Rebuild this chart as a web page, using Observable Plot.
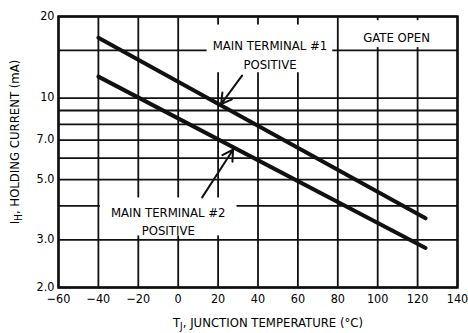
<!DOCTYPE html>
<html><head><meta charset="utf-8">
<script src="https://cdn.jsdelivr.net/npm/d3@7"></script>
<script src="https://cdn.jsdelivr.net/npm/@observablehq/plot@0.6"></script>
<style>body{margin:0;background:#fff}</style>
</head><body><div id="chart"></div>
<script>
// Holding current vs junction temperature, gate open
const xTicks = [-60, -40, -20, 0, 20, 40, 60, 80, 100, 120, 140];
const yGrid = [2, 3, 4, 5, 6, 7, 8, 9, 10, 15, 20];
const yTicks = [2, 3, 5, 7, 10, 20];
const yTickText = ["2.0", "3.0", "5.0", "7.0", "10", "20"];
const temps = [-40, 124];
const mt1Current = [16.7, 3.6];   // main terminal #1 positive, mA
const mt2Current = [12.0, 2.8];   // main terminal #2 positive, mA

const rows = [
  ...temps.map((t, i) => ({series: "MT1", t, ih: mt1Current[i]})),
  ...temps.map((t, i) => ({series: "MT2", t, ih: mt2Current[i]}))
];

// Annotation blocks (data units); white boxes keep the grid clear behind text
const boxes = [
  {x1: 14.5, x2: 77.5, y1: 12.4, y2: 18.6},
  {x1: 81, x2: 138.5, y1: 15.35, y2: 19.3},
  {x1: -39, x2: 29.5, y1: 3.1, y2: 4.28}
];
const notes = [
  {x: 46, y: 14.6, text: "MAIN TERMINAL #1\nPOSITIVE"},
  {x: 109.5, y: 17.0, text: "GATE OPEN"},
  {x: -5, y: 3.55, text: "MAIN TERMINAL #2\nPOSITIVE"}
];
const arrows = [
  {x1: 32, y1: 12.1, x2: 21.5, y2: 9.5},
  {x1: 12, y1: 4.3, x2: 27.5, y2: 6.45}
];

const font = "'DejaVu Sans Condensed', 'Liberation Sans Narrow', sans-serif";

const svg = Plot.plot({
  width: 468,
  height: 333,
  marginLeft: 58,
  marginRight: 11,
  marginTop: 16,
  marginBottom: 46,
  style: {fontFamily: font, fontSize: "13px", color: "#000", background: "#fff"},
  x: {domain: [-60, 140]},
  y: {type: "log", domain: [2, 20]},
  marks: [
    Plot.ruleX(xTicks, {stroke: "#111", strokeWidth: 1.8}),
    Plot.ruleY(yGrid, {stroke: "#111", strokeWidth: 1.8}),
    Plot.rect(boxes, {x1: "x1", x2: "x2", y1: "y1", y2: "y2", fill: "white"}),
    Plot.frame({stroke: "#111", strokeWidth: 2.5}),
    Plot.line(rows, {x: "t", y: "ih", z: "series", stroke: "#111", strokeWidth: 4}),
    Plot.text(notes, {x: "x", y: "y", text: "text", fill: "#000", fontSize: 13, lineHeight: 1.45}),
    Plot.arrow(arrows, {x1: "x1", y1: "y1", x2: "x2", y2: "y2", stroke: "#111", strokeWidth: 2, headLength: 9}),
    Plot.axisX(xTicks, {tickSize: 0, tickPadding: 7, label: null, fontSize: 12.5}),
    Plot.axisY(yTicks, {tickSize: 0, tickPadding: 4, label: null, fontSize: 12.5, dy: -1,
      tickFormat: d => yTickText[yTicks.indexOf(d)]})
  ]
});

// Axis titles with subscripts
const s = d3.select(svg);
const xt = s.append("text")
  .attr("x", 268).attr("y", 327)
  .attr("text-anchor", "middle")
  .attr("font-family", font).attr("font-size", 13).attr("fill", "#000");
xt.append("tspan").text("T");
xt.append("tspan").attr("dy", 3).attr("font-size", 10).text("J");
xt.append("tspan").attr("dy", -3).text(", JUNCTION TEMPERATURE (°C)");

const yt = s.append("text")
  .attr("transform", "translate(19,142) rotate(-90)")
  .attr("text-anchor", "middle")
  .attr("font-family", font).attr("font-size", 13).attr("fill", "#000");
yt.append("tspan").text("I");
yt.append("tspan").attr("dy", 3).attr("font-size", 10).text("H");
yt.append("tspan").attr("dy", -3).text(", HOLDING CURRENT (mA)");

document.getElementById("chart").append(svg);
</script>
</body></html>
